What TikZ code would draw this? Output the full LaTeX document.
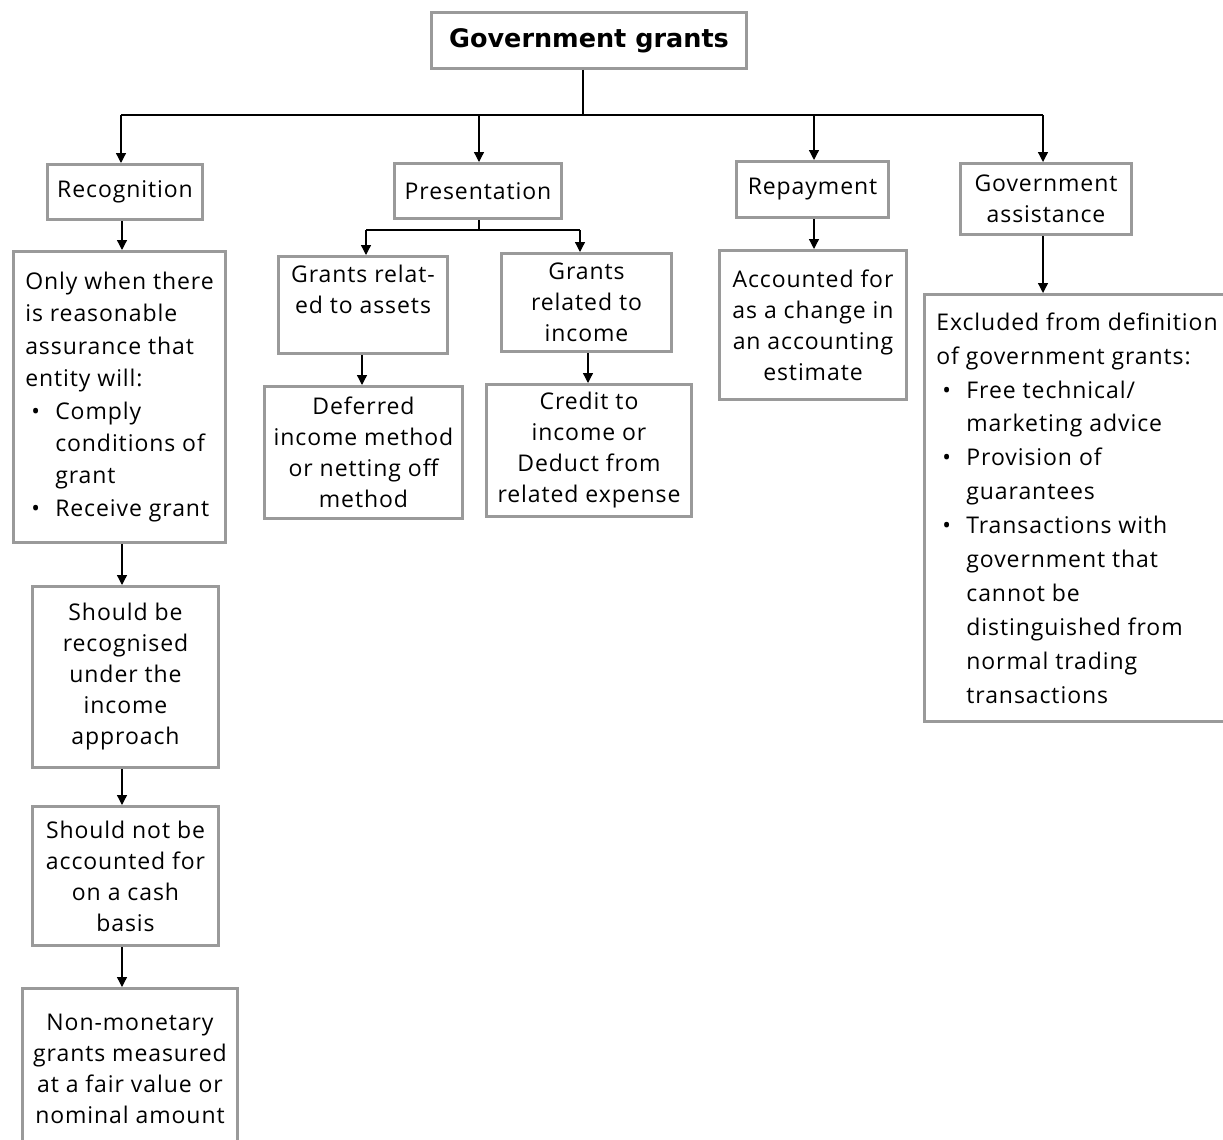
\documentclass[tikz,border=0pt]{standalone}
\usepackage{fontspec}
\setmainfont[LetterSpace=4]{Open Sans}
\newfontfamily\titlefont{DejaVu Sans}
\usetikzlibrary{arrows.meta}
\definecolor{boxgray}{HTML}{9A9A9A}
\newcommand{\bul}{\hspace*{6pt}\makebox[24pt][l]{•}}
\newcommand{\ind}{\hspace*{30pt}}
\begin{document}
\begin{tikzpicture}[x=1pt,y=-1pt,
  box/.style={draw=boxgray, line width=3pt, fill=white, inner sep=2pt, align=center,
    font=\fontsize{23}{31}\selectfont, anchor=north west},
  arr/.style={-{Triangle[length=10pt,width=10pt]}, line width=1.3pt},
  ln/.style={line width=1.3pt}]
\useasboundingbox (0,0) rectangle (1223,1140);
\fill[white] (0,0) rectangle (1223,1140);

\node[box, minimum width=315, minimum height=56, font=\titlefont\bfseries\fontsize{25.5}{30}\selectfont] (title) at (430,11) {Government grants};

\node[box, minimum width=155, minimum height=55] (rec) at (46,163) {Recognition};
\node[box, minimum width=167, minimum height=55] (pres) at (393,162) {Presentation};
\node[box, minimum width=152, minimum height=56] (rep) at (735,160) {Repayment};
\node[box, minimum width=171, minimum height=71] (gas) at (959,162) {Government\\assistance};

\node[box, minimum width=212, minimum height=291, align=left, font=\fontsize{23}{32.4}\selectfont] (only) at (12,250)
 {Only when there\\is reasonable\\assurance that\\entity will:\\\bul Comply\\\ind conditions of\\\ind grant\\\bul Receive grant};
\node[box, minimum width=186, minimum height=181] (sb) at (31,585) {Should be\\recognised\\under the\\income\\approach};
\node[box, minimum width=186, minimum height=139] (snb) at (31,805) {Should not be\\accounted for\\on a cash\\basis};
\node[box, minimum width=215, minimum height=160] (nm) at (21,987) {Non-monetary\\grants measured\\at a fair value or\\nominal amount};

\node[box, minimum width=169, minimum height=97] (ga) at (277,255) {Grants relat-\\ed to assets\\\mbox{}};
\node[box, minimum width=170, minimum height=98] (gi) at (500,252) {Grants\\related to\\income};
\node[box, minimum width=198, minimum height=132] (def) at (263,385) {Deferred\\income method\\or netting off\\method};
\node[box, minimum width=205, minimum height=132] (cred) at (485,383) {Credit to\\income or\\Deduct from\\related expense};

\node[box, minimum width=187, minimum height=149] (acc) at (718,249) {Accounted for\\as a change in\\an accounting\\estimate};

\node[box, minimum width=305, minimum height=427, align=left, font=\fontsize{23}{33.9}\selectfont] (exc) at (923,293)
 {Excluded from definition\\of government grants:\\\bul Free technical/\\\ind marketing advice\\\bul Provision of\\\ind guarantees\\\bul Transactions with\\\ind government that\\\ind cannot be\\\ind distinguished from\\\ind normal trading\\\ind transactions};

% top connectors
\coordinate (j) at (583,115);
\coordinate (j1) at (121,115);
\coordinate (j2) at (479,115);
\coordinate (j3) at (814,115);
\coordinate (j4) at (1043,115);
\draw[ln] (j |- title.south) -- (j);
\draw[ln] (j1) -- (j4);
\draw[arr] (j1) -- (j1 |- rec.north);
\draw[arr] (j2) -- (j2 |- pres.north);
\draw[arr] (j3) -- (j3 |- rep.north);
\draw[arr] (j4) -- (j4 |- gas.north);

% recognition chain
\coordinate (r) at (122,0);
\draw[arr] (r |- rec.south) -- (r |- only.north);
\draw[arr] (r |- only.south) -- (r |- sb.north);
\draw[arr] (r |- sb.south) -- (r |- snb.north);
\draw[arr] (r |- snb.south) -- (r |- nm.north);

% presentation split
\coordinate (pj) at (479,230);
\coordinate (pl) at (366,230);
\coordinate (pr) at (580,230);
\draw[ln] (pj |- pres.south) -- (pj);
\draw[ln] (pl) -- (pr);
\draw[arr] (pl) -- (pl |- ga.north);
\draw[arr] (pr) -- (pr |- gi.north);
\coordinate (ca) at (362,0);
\coordinate (cb) at (588,0);
\draw[arr] (ca |- ga.south) -- (ca |- def.north);
\draw[arr] (cb |- gi.south) -- (cb |- cred.north);

% repayment
\draw[arr] (j3 |- rep.south) -- (j3 |- acc.north);
% government assistance
\draw[arr] (j4 |- gas.south) -- (j4 |- exc.north);
\end{tikzpicture}
\end{document}
